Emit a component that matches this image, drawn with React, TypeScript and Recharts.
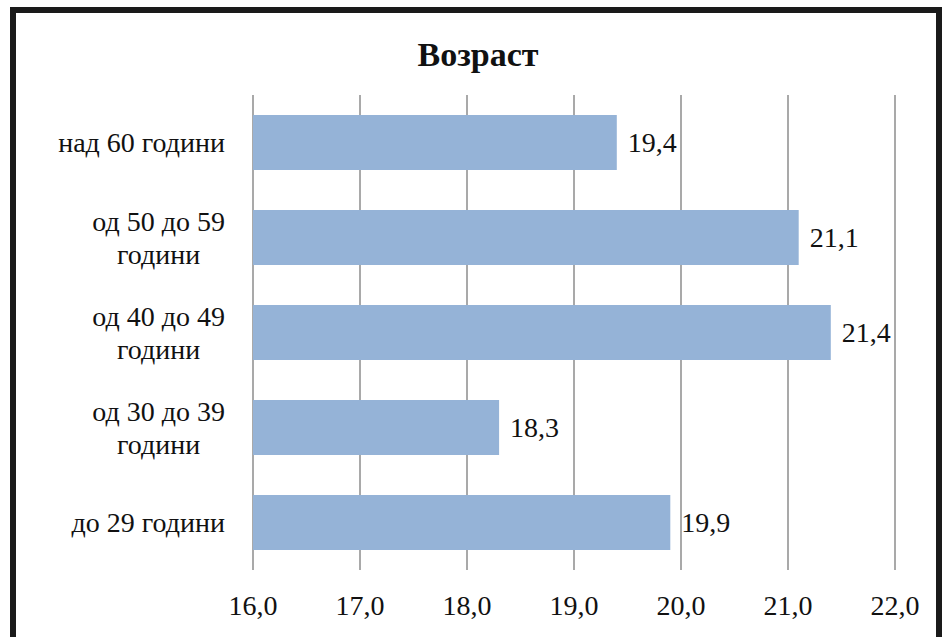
import React, { useLayoutEffect, useRef, useState } from "react";
import { BarChart, Bar, XAxis, YAxis, CartesianGrid, LabelList } from "recharts";

const categories = ["над 60 години", "од 50 до 59\nгодини", "од 40 до 49\nгодини", "од 30 до 39\nгодини", "до 29 години"];
const values = [19.4, 21.1, 21.4, 18.3, 19.9];
const xTicks = [16, 17, 18, 19, 20, 21, 22];
const title = "Возраст";

const data = categories.map((c, i) => ({ name: c, value: values[i] }));

const FS = 28;
const fmt = (v: number) => v.toFixed(1).replace(".", ",");

const YTick = (props: any) => {
  const { x, y, payload } = props;
  const lines: string[] = String(payload.value).split("\n");
  const ref = useRef<SVGTextElement>(null);
  const [w, setW] = useState(0);
  useLayoutEffect(() => {
    if (ref.current) setW(ref.current.getBBox().width);
  }, [payload.value]);
  const right = x - 28;
  const lh = 33;
  if (lines.length === 1) {
    return (
      <text x={right} y={y} textAnchor="end" dominantBaseline="central" fontFamily="Liberation Serif" fontSize={FS} fill="#111">
        {lines[0]}
      </text>
    );
  }
  return (
    <g>
      <text ref={ref} x={right} y={y - lh / 2} textAnchor="end" dominantBaseline="central" fontFamily="Liberation Serif" fontSize={FS} fill="#111">
        {lines[0]}
      </text>
      <text x={right - w / 2} y={y + lh / 2} textAnchor="middle" dominantBaseline="central" fontFamily="Liberation Serif" fontSize={FS} fill="#111">
        {lines[1]}
      </text>
    </g>
  );
};

const Title = () => (
  <text x={478} y={66} textAnchor="middle" fontFamily="Liberation Serif" fontWeight="bold" fontSize={34} fill="#111">
    {title}
  </text>
);

export default function App() {
  return (
    <div style={{ position: "absolute", left: 0, top: 0, width: 946, height: 637, background: "#fff" }}>
      <BarChart
        width={946}
        height={637}
        data={data}
        layout="vertical"
        margin={{ top: 95, right: 51, bottom: 0, left: 13 }}
        barCategoryGap="21%"
      >
        <CartesianGrid horizontal={false} vertical={true} stroke="#8c8c8c" strokeWidth={1.5} />
        <XAxis
          type="number"
          domain={[16, 22]}
          ticks={xTicks}
          allowDataOverflow
          axisLine={false}
          tickLine={false}
          tickSize={0}
          tickMargin={25}
          height={67}
          tickFormatter={fmt}
          tick={{ fontFamily: "Liberation Serif", fontSize: FS, fill: "#111" }}
        />
        <YAxis
          type="category"
          dataKey="name"
          width={240}
          axisLine={false}
          tickLine={false}
          tickSize={0}
          tickMargin={0}
          interval={0}
          tick={<YTick />}
        />
        <Bar dataKey="value" fill="#95B3D7" isAnimationActive={false}>
          <LabelList
            dataKey="value"
            position="right"
            offset={11}
            formatter={(v: any) => fmt(Number(v))}
            fontFamily="Liberation Serif"
            fontSize={FS}
            fill="#111"
          />
        </Bar>
        <Title />
      </BarChart>
      <div
        style={{
          position: "absolute",
          left: 10,
          top: 7,
          width: 920,
          height: 700,
          border: "6px solid #1a1a1a",
          pointerEvents: "none",
        }}
      />
    </div>
  );
}
